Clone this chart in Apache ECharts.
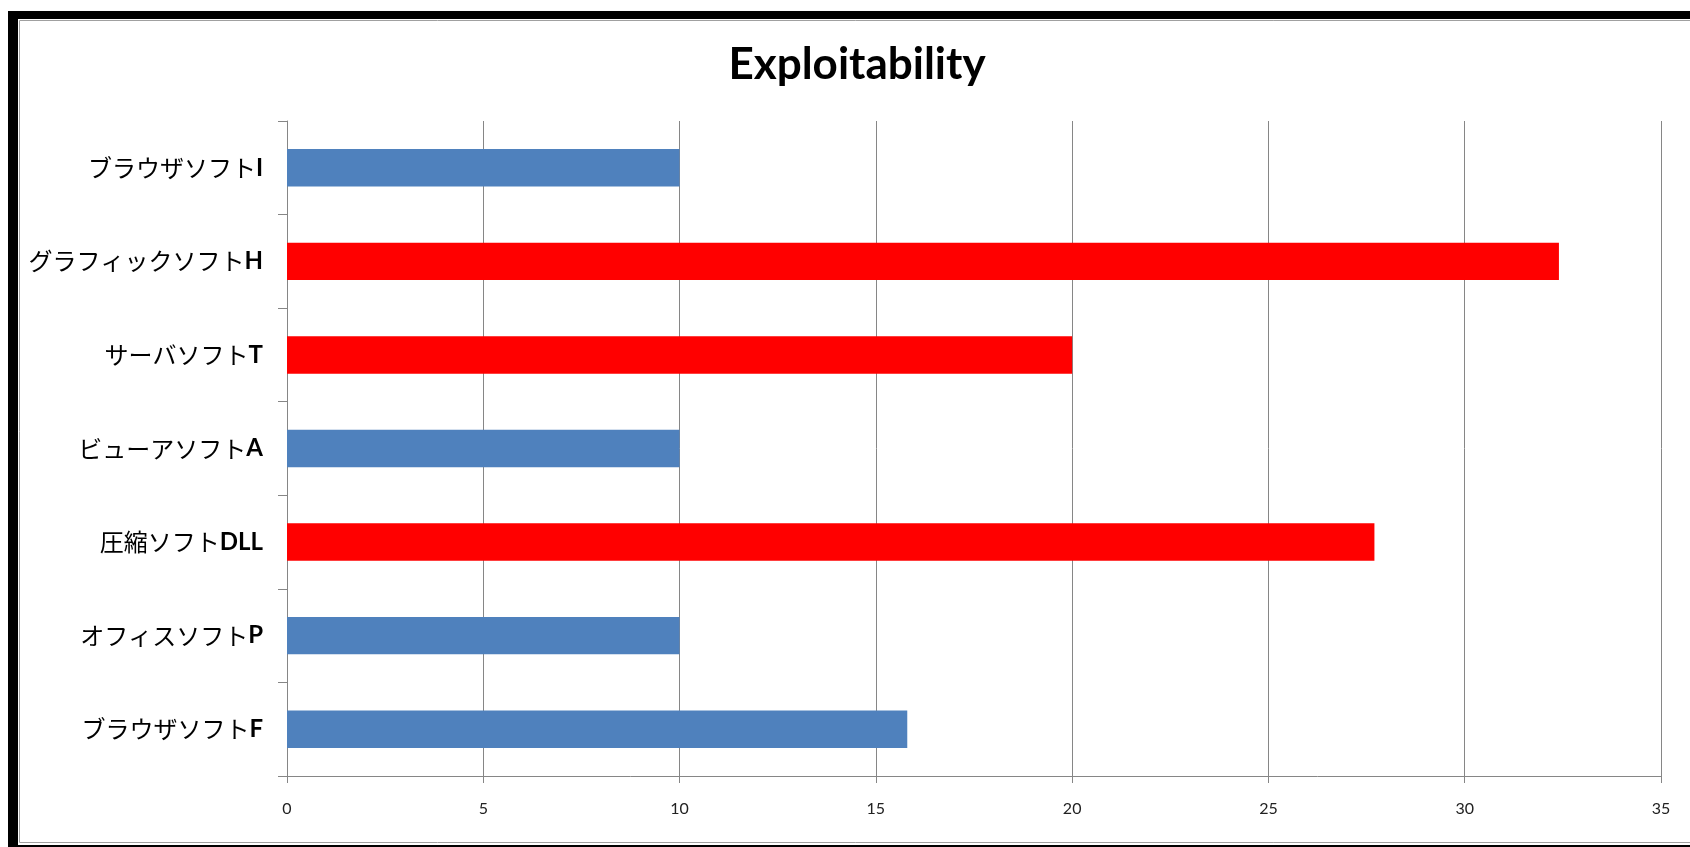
<!DOCTYPE html>
<html>
<head>
<meta charset="UTF-8">
<title>Exploitability</title>
<script src="https://cdn.jsdelivr.net/npm/echarts@6/dist/echarts.min.js"></script>
<style>
  html, body { margin: 0; padding: 0; background: #fff; }
  #chart1 { width: 1690px; height: 847px; }
</style>
</head>
<body>
<div id="chart1"></div>
<script type="text/javascript">
// data (bottom to top, as ECharts draws category axis upward)
var softNames = ['ブラウザソフトF', 'オフィスソフトP', '圧縮ソフトDLL', 'ビューアソフトA', 'サーバソフトT', 'グラフィックソフトH', 'ブラウザソフトI'];
var scores = [15.8, 10, 27.7, 10, 20, 32.4, 10];
var highlighted = [false, false, true, false, true, true, false];   // red bars
var xTicks = [0, 5, 10, 15, 20, 25, 30, 35];

var blue = '#4f81bd';
var red = '#ff0000';

var chart1 = echarts.init(document.getElementById('chart1'));

var barData = scores.map(function (v, i) {
    return { value: v, itemStyle: { color: highlighted[i] ? red : blue } };
});

var option = {
    backgroundColor: '#fff',
    animation: false,
    title: {
        text: 'Exploitability',
        left: 852,
        top: 38,
        textAlign: 'center',
        textStyle: {
            fontFamily: 'Lato',
            fontWeight: 'bold',
            fontSize: 44,
            color: '#000'
        }
    },
    grid: {
        left: 287,
        right: 29,
        top: 121,
        bottom: 71,
        containLabel: false
    },
    xAxis: {
        type: 'value',
        min: xTicks[0],
        max: xTicks[xTicks.length - 1],
        interval: 5,
        axisLine: { show: true, lineStyle: { color: '#868686', width: 1 } },
        axisTick: { show: true, length: 7, lineStyle: { color: '#868686' } },
        splitLine: { show: true, lineStyle: { color: '#868686', width: 1 } },
        axisLabel: {
            margin: 25,
            fontFamily: 'Lato',
            fontSize: 16,
            color: '#222'
        }
    },
    yAxis: {
        type: 'category',
        data: softNames,
        axisLine: { show: true, lineStyle: { color: '#868686', width: 1 } },
        axisTick: { show: true, length: 9, lineStyle: { color: '#868686' } },
        axisLabel: {
            margin: 24,
            formatter: function (v) {
                var m = v.match(/^(.*?)([A-Z]+)$/);
                return '{k|' + m[1] + '}{b|' + m[2] + '}';
            },
            rich: {
                k: { fontFamily: 'Noto Sans CJK JP', fontSize: 24, color: '#000' },
                b: { fontFamily: 'Lato', fontWeight: 'bold', fontSize: 24, color: '#000' }
            }
        }
    },
    series: [{
        type: 'bar',
        data: barData,
        barWidth: '40%'
    }],
    graphic: [
        // black frame (left, top, bottom) and thin grey inner line
        { type: 'rect', shape: { x: 8, y: 11, width: 10, height: 840 }, style: { fill: '#000' }, silent: true },
        { type: 'rect', shape: { x: 8, y: 11, width: 1690, height: 8 }, style: { fill: '#000' }, silent: true },
        { type: 'rect', shape: { x: 8, y: 845, width: 1690, height: 4 }, style: { fill: '#000' }, silent: true },
        { type: 'rect', shape: { x: 19.5, y: 20.5, width: 1690, height: 822 }, style: { fill: null, stroke: '#a0a0a0', lineWidth: 1 }, silent: true }
    ]
};

chart1.setOption(option);
</script>
</body>
</html>
